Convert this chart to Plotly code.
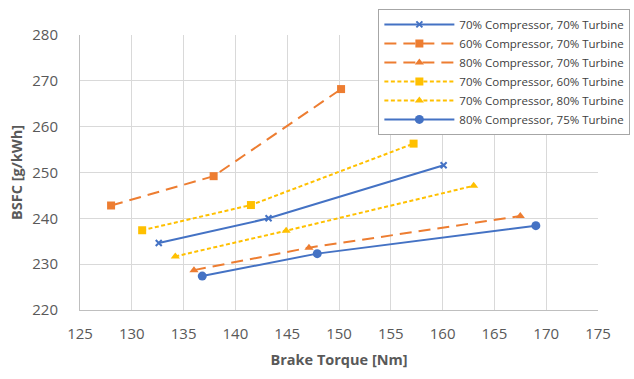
import plotly.graph_objects as go

# Brake torque [Nm] and BSFC [g/kWh] for each compressor/turbine efficiency case
names = [
    "70% Compressor, 70% Turbine",
    "60% Compressor, 70% Turbine",
    "80% Compressor, 70% Turbine",
    "70% Compressor, 60% Turbine",
    "70% Compressor, 80% Turbine",
    "80% Compressor, 75% Turbine",
]
torque_c70_t70 = [132.6, 143.2, 160.1]
bsfc_c70_t70 = [234.6, 240.0, 251.6]
torque_c60_t70 = [128.0, 137.9, 150.2]
bsfc_c60_t70 = [242.8, 249.2, 268.2]
torque_c80_t70 = [136.0, 147.1, 167.5]
bsfc_c80_t70 = [228.7, 233.6, 240.5]
torque_c70_t60 = [131.0, 141.5, 157.2]
bsfc_c70_t60 = [237.4, 242.9, 256.3]
torque_c70_t80 = [134.2, 144.9, 163.0]
bsfc_c70_t80 = [231.7, 237.3, 247.1]
torque_c80_t75 = [136.8, 147.9, 169.0]
bsfc_c80_t75 = [227.4, 232.3, 238.4]

x_ticks = [125, 130, 135, 140, 145, 150, 155, 160, 165, 170, 175]
y_ticks = [220, 230, 240, 250, 260, 270, 280]

BLUE = "#4472C4"
ORANGE = "#ED7D31"
GOLD = "#FFC000"

series = [
    (torque_c70_t70, bsfc_c70_t70, BLUE, "solid", "x-thin", 6, 2),
    (torque_c60_t70, bsfc_c60_t70, ORANGE, "12px,7px", "square", 8, 0),
    (torque_c80_t70, bsfc_c80_t70, ORANGE, "12px,7px", "triangle-up", 8, 0),
    (torque_c70_t60, bsfc_c70_t60, GOLD, "4px,2.5px", "square", 8, 0),
    (torque_c70_t80, bsfc_c70_t80, GOLD, "4px,2.5px", "triangle-up", 8, 0),
    (torque_c80_t75, bsfc_c80_t75, BLUE, "solid", "circle", 9, 0),
]

fig = go.Figure()
for name, (xs, ys, color, dash, symbol, size, lw) in zip(names, series):
    fig.add_trace(go.Scatter(
        x=xs, y=ys, name=name, mode="lines+markers",
        line=dict(color=color, width=2, dash=dash),
        marker=dict(color=color, symbol=symbol, size=size,
                    line=dict(color=color, width=lw)),
    ))

font_family = "Open Sans, Liberation Sans, sans-serif"
grid = "#D9D9D9"
text_gray = "#595959"

fig.update_layout(
    width=634, height=379,
    margin=dict(l=80, r=36, t=35, b=69, autoexpand=False),
    paper_bgcolor="white", plot_bgcolor="white",
    font=dict(family=font_family, color=text_gray, size=15),
    showlegend=True,
    legend=dict(
        x=0.576, y=1.095, xanchor="left", yanchor="top",
        bgcolor="white", bordercolor="#A6A6A6", borderwidth=1,
        font=dict(size=11.5, color="#404040", family=font_family),
        itemwidth=70, tracegroupgap=0,
    ),
    xaxis=dict(
        range=[125, 175], tickvals=x_ticks, ticktext=[str(v) for v in x_ticks],
        showgrid=True, gridcolor=grid, gridwidth=1,
        showline=True, linecolor="#BFBFBF", zeroline=False,
        ticks="", ticklabelstandoff=10,
        title=dict(text="<b>Brake Torque [Nm]</b>", font=dict(size=14.5, color=text_gray), standoff=12),
    ),
    yaxis=dict(
        range=[220, 280], tickvals=y_ticks, ticktext=[str(v) for v in y_ticks],
        showgrid=True, gridcolor=grid, gridwidth=1,
        showline=True, linecolor="#BFBFBF", zeroline=False,
        ticks="", ticklabelstandoff=18,
        title=dict(text="<b>BSFC [g/kWh]</b>", font=dict(size=14.5, color=text_gray), standoff=6),
    ),
)

fig.write_html("out.html")
